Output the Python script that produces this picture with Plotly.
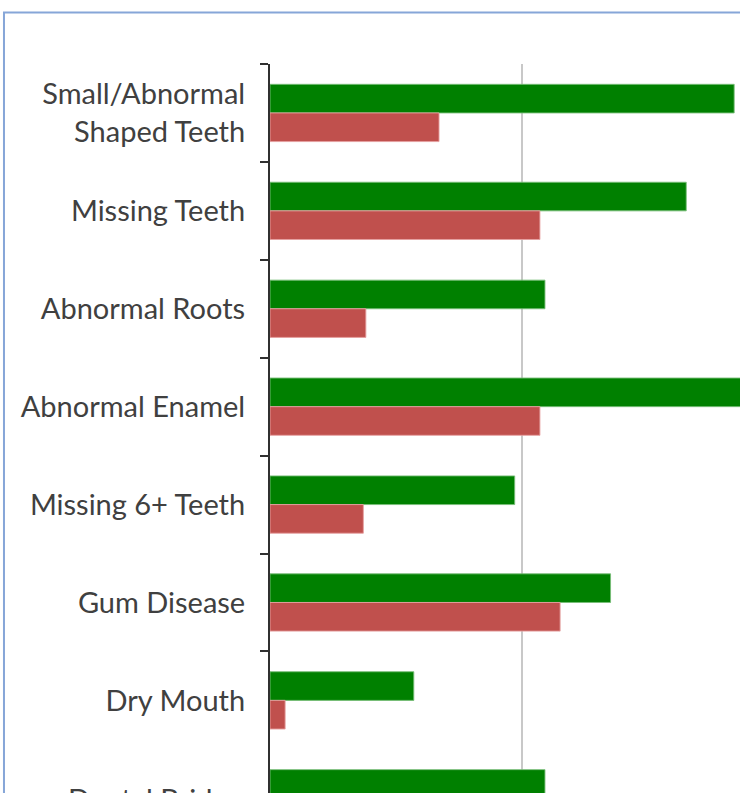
import plotly.graph_objects as go

categories = ["Small/Abnormal<br>Shaped Teeth", "Missing Teeth", "Abnormal Roots",
              "Abnormal Enamel", "Missing 6+ Teeth", "Gum Disease", "Dry Mouth",
              "Dental Bridge"]
green_values = [18.4, 16.5, 10.9, 20.0, 9.7, 13.5, 5.7, 10.9]
red_values = [6.7, 10.7, 3.8, 10.7, 3.7, 11.5, 0.6, 5.0]

GREEN = "#008000"
RED = "#C0504D"
Y_RANGE = [6.946, -0.5]
FONT = dict(family="Lato", size=29, color="#404040")

fig = go.Figure()
fig.add_trace(go.Bar(y=categories, x=green_values, orientation="h",
                     marker=dict(color=GREEN, line=dict(color="rgba(120,190,120,0.9)", width=1)),
                     name="Series 1"))
fig.add_trace(go.Bar(y=categories, x=red_values, orientation="h",
                     marker=dict(color=RED, line=dict(color="rgba(230,160,160,0.9)", width=1)),
                     name="Series 2"))

fig.update_layout(
    width=740, height=793,
    margin=dict(l=270, r=0, t=64, b=0),
    paper_bgcolor="white", plot_bgcolor="white",
    barmode="group", bargap=0.415, bargroupgap=0,
    showlegend=False,
    font=FONT,
)
fig.update_xaxes(range=[0, (740 - 270.5) / 25.2], dtick=10, showgrid=True,
                 gridcolor="#c8c8c8", gridwidth=1.5, zeroline=False,
                 showticklabels=False, showline=False, automargin=False)
fig.update_yaxes(type="category", range=Y_RANGE, showline=True,
                 linecolor="#303030", linewidth=2, ticks="outside",
                 tickson="boundaries", ticklen=8, tickwidth=2, tickcolor="#303030",
                 ticklabelstandoff=17, showgrid=False, automargin=False)

# tick labels for categories whose centre lies just past the visible range
for i, cat in enumerate(categories):
    frac = (i - Y_RANGE[0]) / (Y_RANGE[1] - Y_RANGE[0])
    if frac < 0 or frac > 1:
        fig.add_annotation(text=cat, xref="paper", yref="paper", x=0, y=frac,
                           xanchor="right", yanchor="middle", xshift=-25,
                           showarrow=False, font=FONT)

fig.add_shape(type="rect", xref="paper", yref="paper",
              x0=-0.566, x1=1.2, y0=-0.2, y1=1.0706,
              line=dict(color="#86A6D8", width=2), layer="above")

fig.write_html("out.html", config={"displayModeBar": False},
               post_script="document.body.style.margin='0';document.body.style.overflow='hidden';")
